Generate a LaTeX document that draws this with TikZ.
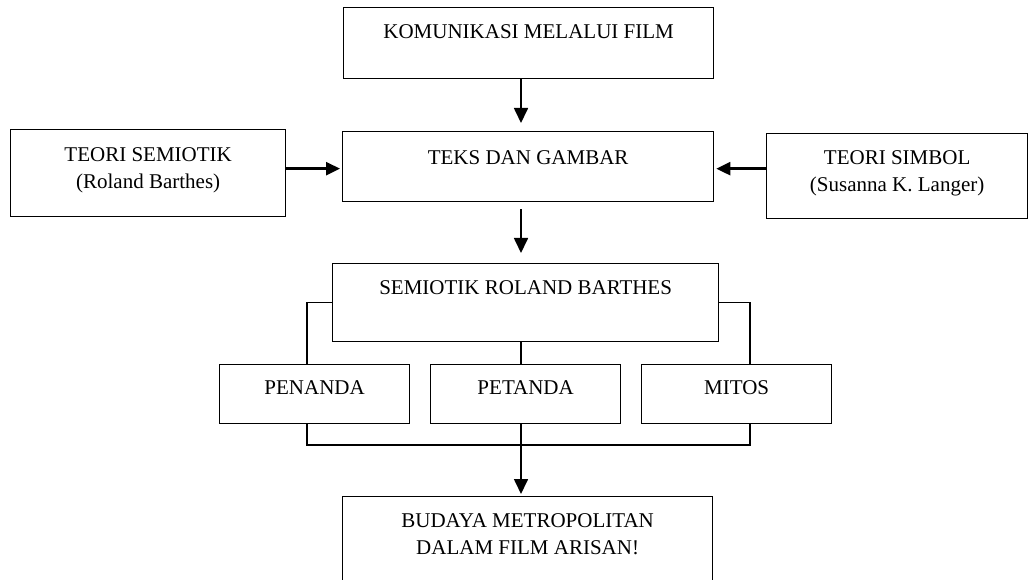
\documentclass[tikz,border=0pt]{standalone}
\usepackage{fontspec}
\setmainfont{Liberation Serif}
\usetikzlibrary{arrows.meta,calc}
\newcommand\boxtxt[4]{\parbox[c][#2pt][t]{#1pt}{\centering\fontsize{21}{27}\selectfont\rule{0pt}{#3pt}#4\par}}
\tikzset{
  box/.style={draw, line width=1.3pt, inner sep=0pt, anchor=north west},
  tline/.style={line width=1.3pt},
  varr/.style={line width=1.7pt, -{Triangle[length=15pt,width=14pt]}},
  harr/.style={line width=2.5pt, -{Triangle[length=14pt,width=13pt]}}
}
\begin{document}
\begin{tikzpicture}[x=1pt,y=-1pt]
\useasboundingbox (0,0) rectangle (1034,580);
\fill[white] (0,0) rectangle (1034,580);
\clip (0,0) rectangle (1034,580);
\node[box] (kom) at (343,7) {\boxtxt{370}{71}{31}{KOMUNIKASI MELALUI FILM}};
\node[box] (teks) at (342,131) {\boxtxt{371}{70}{33}{TEKS DAN GAMBAR}};
\node[box] (ts) at (10,129) {\boxtxt{275}{87}{32}{TEORI SEMIOTIK\\(Roland Barthes)}};
\node[box] (tsim) at (766,133) {\boxtxt{261}{85}{31}{TEORI SIMBOL\\(Susanna K. Langer)}};
\node[box] (srb) at (332,263) {\boxtxt{386}{78}{31}{SEMIOTIK ROLAND BARTHES}};
\node[box] (pen) at (219,364) {\boxtxt{190}{59}{30}{PENANDA}};
\node[box] (pet) at (430,364) {\boxtxt{190}{59}{30}{PETANDA}};
\node[box] (mit) at (641,364) {\boxtxt{190}{59}{30}{MITOS}};
\node[box] (bud) at (342,496) {\boxtxt{370}{110}{31}{BUDAYA METROPOLITAN\\DALAM FILM ARISAN!}};
\coordinate (spine) at (521,0);
\coordinate (lx) at (307,0);
\coordinate (rx) at (750,0);
\coordinate (join) at (521,445);
\coordinate (tw) at ([yshift=-2pt]teks.west);
\coordinate (te) at ([yshift=-2pt]teks.east);
\draw[varr, shorten >=8pt] (kom.south -| spine) -- (teks.north -| spine);
\draw[varr, shorten <=7pt, shorten >=10pt] (teks.south -| spine) -- (srb.north -| spine);
\draw[harr, shorten >=2pt] (ts.east |- tw) -- (tw);
\draw[harr, shorten >=2pt] (tsim.west |- te) -- (te);
\draw[tline] (srb.west) -| (pen.north -| lx);
\draw[tline] (srb.east) -| (mit.north -| rx);
\draw[tline] (srb.south -| spine) -- (pet.north -| spine);
\draw[tline] (pen.south -| lx) |- (join) -| (mit.south -| rx);
\draw[tline] (pet.south -| spine) -- (join);
\draw[varr, shorten >=2pt] (join) -- (bud.north -| spine);
\end{tikzpicture}
\end{document}
